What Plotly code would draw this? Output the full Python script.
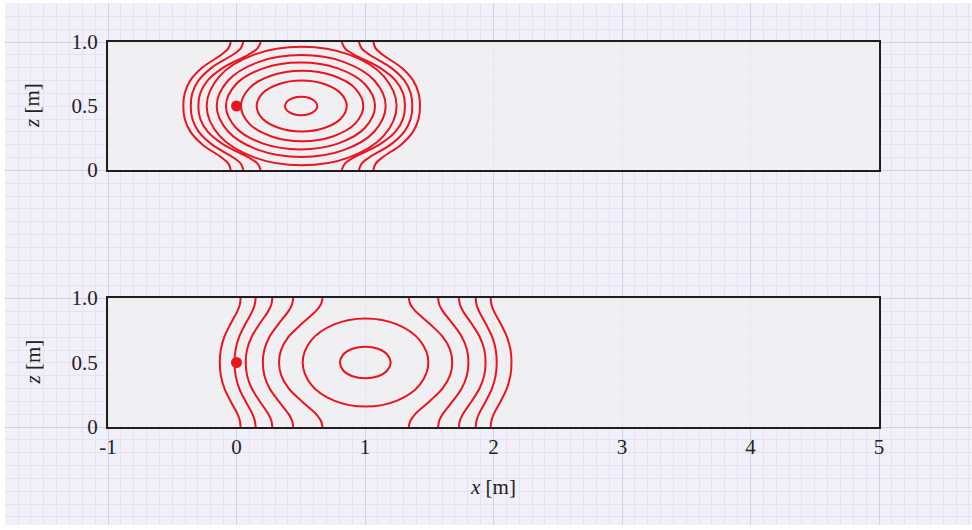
import plotly.graph_objects as go

# ---------------- data ----------------
x_range = [-1, 5]
z_range = [0, 1]
x_tick_vals = [-1, 0, 1, 2, 3, 4, 5]
x_tick_text = ["-1", "0", "1", "2", "3", "4", "5"]
z_tick_vals = [0, 0.5, 1]
z_tick_text = ["0", "0.5", "1.0"]

source_x = [0]
source_z = [0.5]

# closed contours, upper panel
top_closed_x = [
    [0.629, 0.612, 0.566, 0.503, 0.440, 0.394, 0.377, 0.394, 0.440, 0.503, 0.566, 0.612, 0.629],
    [0.858, 0.811, 0.683, 0.507, 0.332, 0.203, 0.157, 0.203, 0.332, 0.507, 0.683, 0.811, 0.858],
    [0.987, 0.923, 0.749, 0.511, 0.273, 0.099, 0.035, 0.099, 0.273, 0.511, 0.749, 0.923, 0.987],
    [1.078, 1.000, 0.788, 0.498, 0.208, -0.004, -0.082, -0.004, 0.208, 0.498, 0.788, 1.000, 1.078],
    [1.161, 1.073, 0.833, 0.504, 0.175, -0.065, -0.154, -0.065, 0.175, 0.504, 0.833, 1.073, 1.161],
    [1.246, 1.147, 0.877, 0.507, 0.137, -0.133, -0.232, -0.133, 0.137, 0.507, 0.877, 1.147, 1.246],
]
top_closed_z = [
    [0.5, 0.536, 0.562, 0.572, 0.562, 0.536, 0.5, 0.464, 0.438, 0.428, 0.438, 0.464, 0.5],
    [0.5, 0.600, 0.672, 0.699, 0.672, 0.600, 0.5, 0.400, 0.328, 0.301, 0.328, 0.400, 0.5],
    [0.5, 0.638, 0.738, 0.775, 0.738, 0.638, 0.5, 0.362, 0.262, 0.225, 0.262, 0.362, 0.5],
    [0.5, 0.670, 0.794, 0.839, 0.794, 0.670, 0.5, 0.330, 0.206, 0.161, 0.206, 0.330, 0.5],
    [0.5, 0.699, 0.845, 0.898, 0.845, 0.699, 0.5, 0.301, 0.155, 0.102, 0.155, 0.301, 0.5],
    [0.5, 0.732, 0.901, 0.963, 0.901, 0.732, 0.5, 0.268, 0.099, 0.037, 0.099, 0.268, 0.5],
]

# open contours (wall to wall), sampled at these heights
open_z = [0, 0.05, 0.1, 0.2, 0.3, 0.4, 0.5, 0.6, 0.7, 0.8, 0.9, 0.95, 1.0]

top_open_x = [
    [-0.045, -0.063, -0.119, -0.266, -0.359, -0.403, -0.414, -0.403, -0.359, -0.266, -0.119, -0.063, -0.045],
    [0.053, 0.033, -0.029, -0.192, -0.295, -0.344, -0.356, -0.344, -0.295, -0.192, -0.029, 0.033, 0.053],
    [0.188, 0.164, 0.091, -0.103, -0.224, -0.282, -0.297, -0.282, -0.224, -0.103, 0.091, 0.164, 0.188],
    [1.065, 1.083, 1.138, 1.283, 1.374, 1.417, 1.428, 1.417, 1.374, 1.283, 1.138, 1.083, 1.065],
    [0.953, 0.974, 1.036, 1.202, 1.306, 1.356, 1.368, 1.356, 1.306, 1.202, 1.036, 0.974, 0.953],
    [0.819, 0.844, 0.917, 1.114, 1.237, 1.296, 1.311, 1.296, 1.237, 1.114, 0.917, 0.844, 0.819],
]

# closed contours, lower panel
bot_closed_x = [
    [1.200, 1.173, 1.101, 1.002, 0.903, 0.831, 0.805, 0.831, 0.903, 1.002, 1.101, 1.173, 1.200],
    [1.493, 1.427, 1.249, 1.004, 0.760, 0.581, 0.515, 0.581, 0.760, 1.004, 1.249, 1.427, 1.493],
]
bot_closed_z = [
    [0.5, 0.562, 0.607, 0.623, 0.607, 0.562, 0.5, 0.438, 0.393, 0.377, 0.393, 0.438, 0.5],
    [0.5, 0.671, 0.796, 0.842, 0.796, 0.671, 0.5, 0.329, 0.204, 0.158, 0.204, 0.329, 0.5],
]

bot_open_x = [
    [0.032, 0.026, 0.008, -0.046, -0.094, -0.122, -0.130, -0.122, -0.094, -0.046, 0.008, 0.026, 0.032],
    [0.149, 0.142, 0.124, 0.070, 0.021, -0.007, -0.015, -0.007, 0.021, 0.070, 0.124, 0.142, 0.149],
    [0.279, 0.271, 0.248, 0.180, 0.118, 0.082, 0.072, 0.082, 0.118, 0.180, 0.248, 0.271, 0.279],
    [0.441, 0.432, 0.406, 0.328, 0.257, 0.217, 0.205, 0.217, 0.257, 0.328, 0.406, 0.432, 0.441],
    [0.670, 0.656, 0.619, 0.507, 0.406, 0.348, 0.331, 0.348, 0.406, 0.507, 0.619, 0.656, 0.670],
    [1.978, 1.984, 2.002, 2.056, 2.104, 2.132, 2.140, 2.132, 2.104, 2.056, 2.002, 1.984, 1.978],
    [1.861, 1.868, 1.886, 1.940, 1.989, 2.017, 2.025, 2.017, 1.989, 1.940, 1.886, 1.868, 1.861],
    [1.731, 1.739, 1.762, 1.830, 1.892, 1.928, 1.938, 1.928, 1.892, 1.830, 1.762, 1.739, 1.731],
    [1.569, 1.578, 1.604, 1.682, 1.753, 1.793, 1.805, 1.793, 1.753, 1.682, 1.604, 1.578, 1.569],
    [1.340, 1.354, 1.391, 1.503, 1.604, 1.662, 1.679, 1.662, 1.604, 1.503, 1.391, 1.354, 1.340],
]

# ---------------- styling / layout ----------------
W, H = 972, 530
RED = "rgb(234,20,30)"
FONT = "Liberation Serif"
TXT = "#222222"
PAGE_BG = "#f1f0f8"
MINOR = "#e4e2f2"
MAJOR = "#d2cfea"
PANEL = "rgba(240,240,240,0.72)"

# pixel layout
PX_L, PX_R = 108, 879
TOP_T, TOP_B = 42, 170
BOT_T, BOT_B = 298, 427
GRID_L, GRID_R, GRID_T, GRID_B = 5, 972, 3, 525


def fx(px):
    return px / W


def fy(py):
    return 1 - py / H


ux = (PX_R - PX_L) / (x_range[1] - x_range[0])
uy = (BOT_B - TOP_T) / 3.0

fig = go.Figure()

# invisible trace for the background grid axes
fig.add_trace(go.Scatter(x=[None], y=[None], xaxis="x", yaxis="y",
                         showlegend=False, hoverinfo="skip"))


def add_line(xs, zs, ax):
    fig.add_trace(go.Scatter(
        x=xs, y=zs, mode="lines", xaxis="x" + ax, yaxis="y" + ax,
        line=dict(color=RED, width=2, shape="spline", smoothing=1.0),
        showlegend=False, hoverinfo="skip"))


for xs, zs in zip(top_closed_x, top_closed_z):
    add_line(xs, zs, "2")
for xs in top_open_x:
    add_line(xs, open_z, "2")
for xs, zs in zip(bot_closed_x, bot_closed_z):
    add_line(xs, zs, "3")
for xs in bot_open_x:
    add_line(xs, open_z, "3")

for ax in ["2", "3"]:
    fig.add_trace(go.Scatter(
        x=source_x, y=source_z, mode="markers", xaxis="x" + ax, yaxis="y" + ax,
        marker=dict(color=RED, size=11), showlegend=False, hoverinfo="skip"))

bg_x = dict(
    domain=[fx(GRID_L), fx(GRID_R)],
    range=[x_range[0] + (GRID_L - PX_L) / ux, x_range[0] + (GRID_R - PX_L) / ux],
    showticklabels=False, ticks="", zeroline=False, showline=False, automargin=False,
    showgrid=True, gridcolor=MAJOR, gridwidth=1, tick0=0, dtick=1,
    minor=dict(showgrid=True, gridcolor=MINOR, gridwidth=1, tick0=0, dtick=0.1),
    fixedrange=True, anchor="y",
)
bg_y = dict(
    domain=[fy(GRID_B), fy(GRID_T)],
    range=[-(GRID_B - BOT_B) / uy, (BOT_B - GRID_T) / uy],
    showticklabels=False, ticks="", zeroline=False, showline=False, automargin=False,
    showgrid=True, gridcolor=MAJOR, gridwidth=1, tick0=0, dtick=1,
    minor=dict(showgrid=True, gridcolor=MINOR, gridwidth=1, tick0=0, dtick=0.1),
    fixedrange=True, anchor="x",
)

axis_common = dict(
    showline=True, mirror=True, linecolor="#1e1e1e", linewidth=2,
    showgrid=False, zeroline=False, ticks="", fixedrange=True, automargin=False,
    tickfont=dict(family=FONT, size=21, color=TXT),
)

shapes = [
    dict(type="rect", xref="paper", yref="paper", layer="below",
         x0=fx(GRID_L), x1=fx(GRID_R), y0=fy(GRID_B), y1=fy(GRID_T),
         fillcolor=PAGE_BG, line=dict(width=0)),
]
for ax in ["2", "3"]:
    shapes.append(dict(type="rect", xref="x" + ax, yref="y" + ax, layer="below",
                       x0=x_range[0], x1=x_range[1], y0=z_range[0], y1=z_range[1],
                       fillcolor=PANEL, line=dict(width=0)))

annotations = [
    dict(text="<i>z</i> [m]", textangle=-90, xref="paper", yref="paper",
         x=fx(32), y=fy((TOP_T + TOP_B) / 2), showarrow=False,
         font=dict(family=FONT, size=21, color=TXT), xanchor="center", yanchor="middle"),
    dict(text="<i>z</i> [m]", textangle=-90, xref="paper", yref="paper",
         x=fx(32), y=fy((BOT_T + BOT_B) / 2), showarrow=False,
         font=dict(family=FONT, size=21, color=TXT), xanchor="center", yanchor="middle"),
    dict(text="<i>x</i> [m]", xref="paper", yref="paper",
         x=fx(493), y=fy(487), showarrow=False,
         font=dict(family=FONT, size=21, color=TXT), xanchor="center", yanchor="middle"),
]

fig.update_layout(
    template="none",
    width=W, height=H, autosize=False,
    margin=dict(l=0, r=0, t=0, b=0, pad=0, autoexpand=False),
    paper_bgcolor="white", plot_bgcolor="rgba(0,0,0,0)",
    showlegend=False,
    xaxis=bg_x, yaxis=bg_y,
    xaxis2=dict(axis_common, domain=[fx(PX_L), fx(PX_R)], range=x_range,
                anchor="y2", showticklabels=False),
    yaxis2=dict(axis_common, domain=[fy(TOP_B), fy(TOP_T)], range=z_range,
                anchor="x2", tickvals=z_tick_vals, ticktext=z_tick_text,
                ticklabelstandoff=4),
    xaxis3=dict(axis_common, domain=[fx(PX_L), fx(PX_R)], range=x_range,
                anchor="y3", tickvals=x_tick_vals, ticktext=x_tick_text,
                ticklabelstandoff=0),
    yaxis3=dict(axis_common, domain=[fy(BOT_B), fy(BOT_T)], range=z_range,
                anchor="x3", tickvals=z_tick_vals, ticktext=z_tick_text,
                ticklabelstandoff=4),
    shapes=shapes,
    annotations=annotations,
)

fig.write_html("out.html")
